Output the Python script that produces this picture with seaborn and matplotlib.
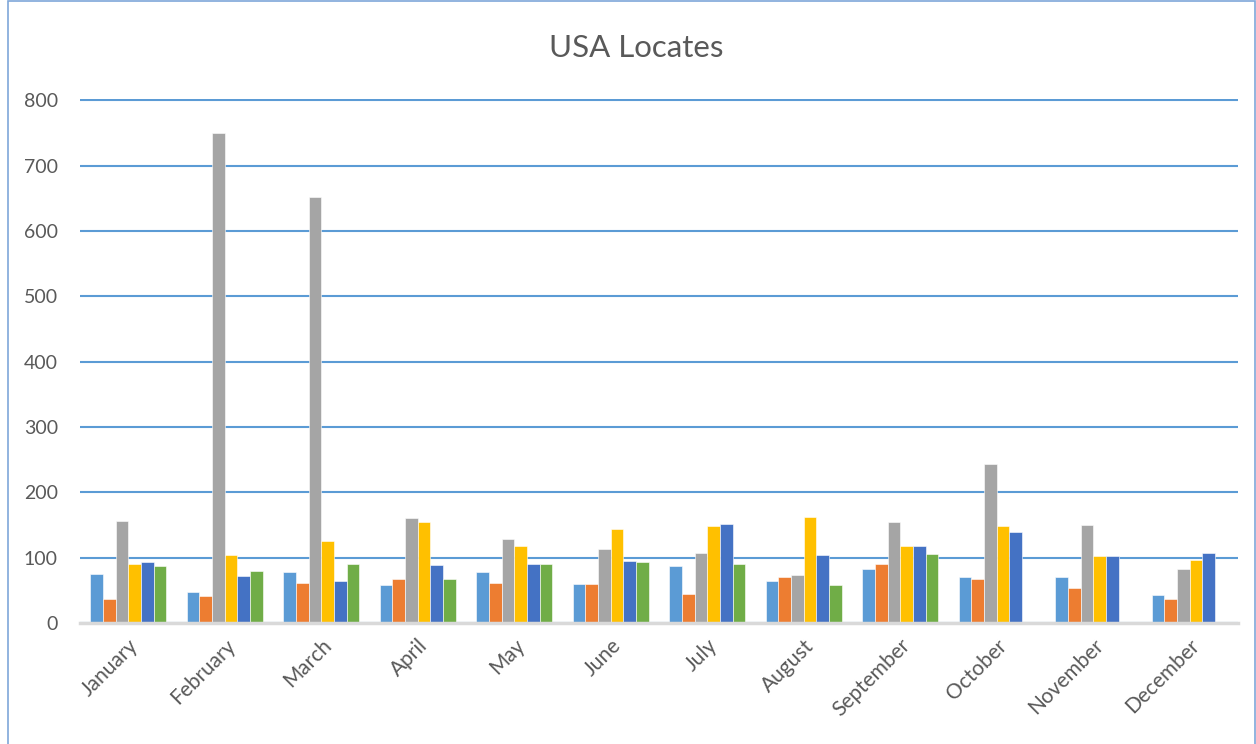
import pandas as pd
import numpy as np
import matplotlib.pyplot as plt
import seaborn as sns
from matplotlib.patches import Rectangle

# datos
meses = ['January', 'February', 'March', 'April', 'May', 'June', 'July',
         'August', 'September', 'October', 'November', 'December']
serie1 = [75, 47, 78, 58, 78, 60, 88, 64, 82, 70, 70, 43]
serie2 = [37, 42, 61, 67, 61, 60, 44, 71, 91, 68, 53, 37]
serie3 = [156, 750, 652, 160, 129, 113, 107, 73, 155, 244, 150, 82]
serie4 = [90, 104, 126, 154, 118, 144, 149, 162, 118, 148, 102, 96]
serie5 = [93, 72, 64, 89, 91, 95, 151, 104, 118, 139, 102, 107]
serie6 = [88, 79, 90, 68, 90, 93, 90, 58, 105, np.nan, np.nan, np.nan]
nombres = ['Series 1', 'Series 2', 'Series 3', 'Series 4', 'Series 5', 'Series 6']
colores = ['#5B9BD5', '#ED7D31', '#A5A5A5', '#FFC000', '#4472C4', '#70AD47']

# pasar a formato largo para seaborn
filas = []
for nombre, valores in zip(nombres, [serie1, serie2, serie3, serie4, serie5, serie6]):
    for mes, v in zip(meses, valores):
        filas.append({'mes': mes, 'serie': nombre, 'valor': v})
datos = pd.DataFrame(filas)

sns.set_style('white')
plt.rcParams['font.family'] = ['Lato', 'DejaVu Sans']

fig = plt.figure(figsize=(12.56, 7.44), dpi=100)
ax = fig.add_axes([80/1256, 121/744, 1158/1256, 524/744])

sns.barplot(data=datos, x='mes', y='valor', hue='serie', order=meses,
            hue_order=nombres, palette=colores, width=0.79, legend=False,
            saturation=1, edgecolor='white', linewidth=0.4, ax=ax, zorder=3)

ax.set_ylim(0, 802)
ax.set_xlim(-0.5, 11.5)
ax.set_yticks(range(0, 801, 100))
ax.yaxis.grid(True, color='#5B9BD5', linewidth=1.5, zorder=0)
ax.set_axisbelow(True)
for lado in ['top', 'right', 'left']:
    ax.spines[lado].set_visible(False)
ax.spines['bottom'].set_color('#D9D9D9')
ax.spines['bottom'].set_linewidth(2.5)
ax.spines['bottom'].set_zorder(4)
ax.tick_params(axis='both', length=0, colors='#595959')
ax.tick_params(axis='y', pad=16, labelsize=14)
ax.tick_params(axis='x', pad=9, labelsize=15)
plt.setp(ax.get_xticklabels(), rotation=45, ha='right', rotation_mode='anchor')
ax.set_xlabel('')
ax.set_ylabel('')

fig.text(0.5065, 1 - 48/744, 'USA Locates', ha='center', va='center',
         fontsize=22.5, color='#595959')

# marco del grafico
fig.add_artist(Rectangle((8/1256, -0.01), 1 - 9/1256, 1 - 1/744 + 0.01,
                         transform=fig.transFigure, fill=False,
                         edgecolor='#7FA7D9', linewidth=1.2))

plt.savefig('out.png', dpi=100)
